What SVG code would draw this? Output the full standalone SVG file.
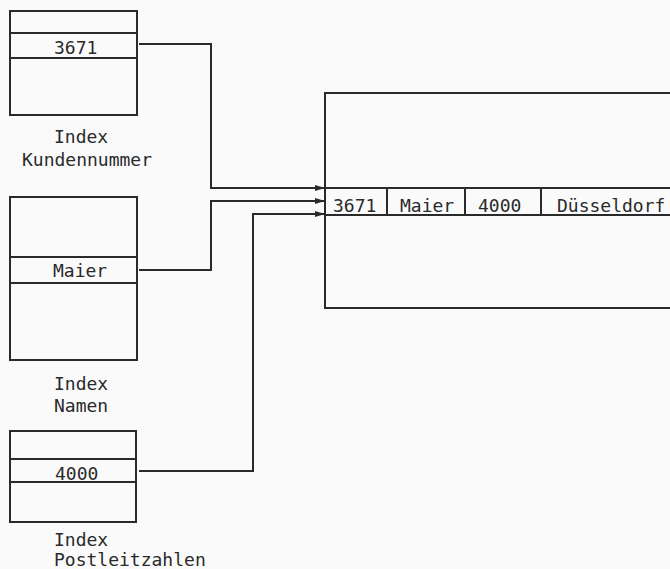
<svg xmlns="http://www.w3.org/2000/svg" width="670" height="569" viewBox="0 0 670 569">
<defs>
<marker id="arr" viewBox="0 0 10 6" refX="10" refY="3" markerWidth="10" markerHeight="6" markerUnits="userSpaceOnUse" orient="auto">
<path d="M0,0 L10,3 L0,6 Z" fill="#2a2a2a"/>
</marker>
<style>
.b{fill:none;stroke:#2a2a2a;stroke-width:2}
.t{font-family:"DejaVu Sans Mono",monospace;font-size:18px;fill:#2a2a2a}
.c{fill:none;stroke:#2a2a2a;stroke-width:2;marker-end:url(#arr)}
</style>
</defs>
<rect width="670" height="569" fill="#fafafa"/>
<g id="index-kundennummer">
<rect class="b" x="10" y="11" width="127" height="104"/>
<line class="b" x1="10" y1="33" x2="137" y2="33"/>
<line class="b" x1="10" y1="58" x2="137" y2="58"/>
<text class="t" x="54" y="54">3671</text>
<text class="t" x="54" y="143">Index</text>
<text class="t" x="22" y="166">Kundennummer</text>
</g>
<g id="index-namen">
<rect class="b" x="10" y="197" width="127" height="163"/>
<line class="b" x1="10" y1="257" x2="137" y2="257"/>
<line class="b" x1="10" y1="283" x2="137" y2="283"/>
<text class="t" x="53" y="277">Maier</text>
<text class="t" x="54" y="390">Index</text>
<text class="t" x="54" y="412">Namen</text>
</g>
<g id="index-postleitzahlen">
<rect class="b" x="10" y="431" width="126" height="91"/>
<line class="b" x1="10" y1="459" x2="136" y2="459"/>
<line class="b" x1="10" y1="482" x2="136" y2="482"/>
<text class="t" x="55" y="480">4000</text>
<text class="t" x="54" y="546">Index</text>
<text class="t" x="54" y="566">Postleitzahlen</text>
</g>
<g id="datei">
<rect class="b" x="325" y="93" width="360" height="215"/>
<line class="b" x1="325" y1="188" x2="670" y2="188"/>
<line class="b" x1="325" y1="215" x2="670" y2="215"/>
<line class="b" x1="387" y1="188" x2="387" y2="215"/>
<line class="b" x1="465" y1="188" x2="465" y2="215"/>
<line class="b" x1="541" y1="188" x2="541" y2="215"/>
<text class="t" x="333" y="212">3671</text>
<text class="t" x="400" y="212">Maier</text>
<text class="t" x="478" y="212">4000</text>
<text class="t" x="557" y="212">Düsseldorf</text>
</g>
<g id="connectors">
<polyline class="c" points="139,44 211,44 211,188 325,188"/>
<polyline class="c" points="139,270 211,270 211,201 325,201"/>
<polyline class="c" points="139,471 253,471 253,214 325,214"/>
</g>
</svg>
